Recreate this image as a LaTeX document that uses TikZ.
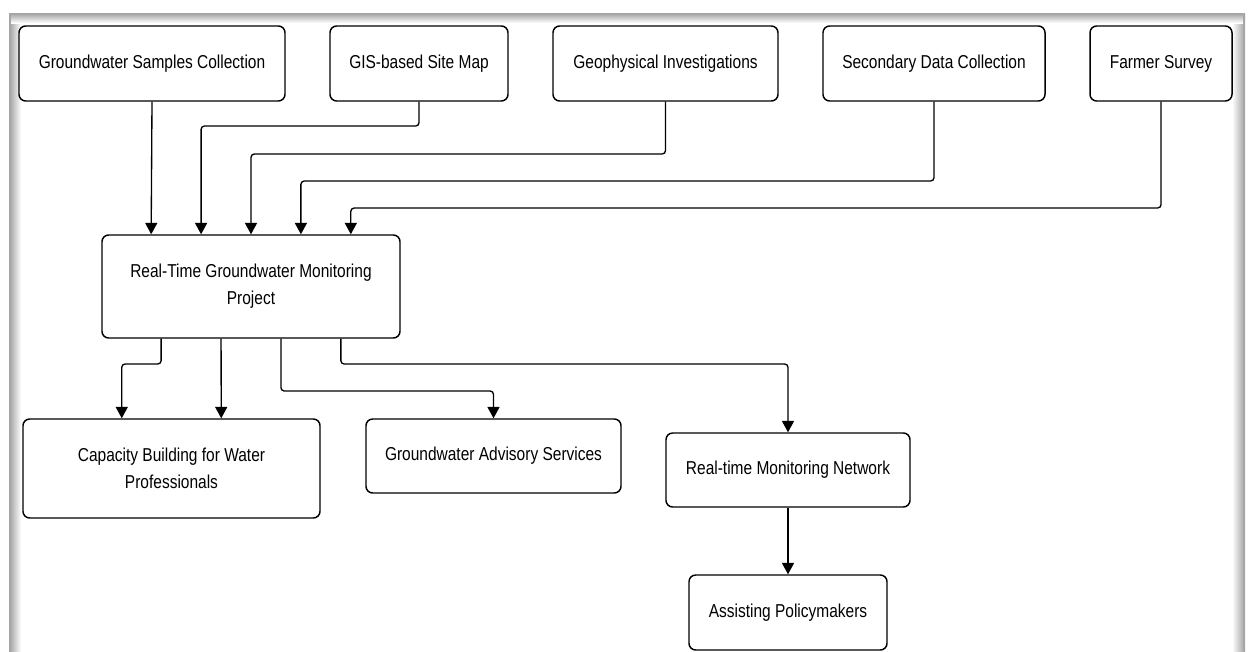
\documentclass[tikz,border=0pt]{standalone}
\usepackage{fontspec}
\setmainfont[FakeStretch=0.83]{Liberation Sans}
\usetikzlibrary{arrows.meta,calc}
\begin{document}
\begin{tikzpicture}[x=0.75pt,y=-0.75pt,
  box/.style={draw=black, line width=1.1pt, rounded corners=5pt, fill=white,
    align=center, inner sep=0pt, font=\fontsize{14pt}{20.25pt}\selectfont},
  arr/.style={draw=black, line width=1pt, rounded corners=2.5pt,
    -{Triangle[width=9pt,length=8.5pt]}}]
\useasboundingbox (0,0) rectangle (1248,651);
\fill[white] (0,0) rectangle (1248,651);
% frame with inner shadow
\shade[left color=gray!75, right color=white] (9,15) rectangle (21,651);
\shade[left color=white, right color=gray!75] (1232,15) rectangle (1245,651);
\shade[top color=gray!75, bottom color=white] (9,13) rectangle (1245,23);
\draw[gray!70, line width=1.5pt] (10,651) -- (10,14) -- (1244,14) -- (1244,651);

% top boxes
\node[box, minimum width=199.5pt, minimum height=56.25pt] (b1) at (152,63.5) {Groundwater Samples Collection};
\node[box, minimum width=133.5pt, minimum height=56.25pt] (b2) at (419,63.5) {GIS-based Site Map};
\node[box, minimum width=168.75pt, minimum height=56.25pt] (b3) at (665.5,63.5) {Geophysical Investigations};
\node[box, minimum width=166.5pt, minimum height=56.25pt] (b4) at (934,63.5) {Secondary Data Collection};
\node[box, minimum width=106.5pt, minimum height=56.25pt] (b5) at (1161,63.5) {Farmer Survey};

% central box
\node[box, minimum width=223.5pt, minimum height=77.25pt] (proj) at (251,286.5) {Real-Time Groundwater Monitoring\\Project};

% lower boxes
\node[box, minimum width=222.75pt, minimum height=74.25pt] (cap) at (171.5,468.5) {Capacity Building for Water\\Professionals};
\node[box, minimum width=191.25pt, minimum height=55.5pt] (adv) at (493.5,456) {Groundwater Advisory Services};
\node[box, minimum width=183pt, minimum height=55.5pt] (net) at (788,470) {Real-time Monitoring Network};
\node[box, minimum width=148.5pt, minimum height=56.25pt] (pol) at (788,612.5) {Assisting Policymakers};

% anchor points on the central box
\foreach \k in {1,...,5} {
  \coordinate (pin\k) at ($(proj.north west)!\k/6!(proj.north east)$);
}
\foreach \k in {1,...,4} {
  \coordinate (pout\k) at ($(proj.south west)!\k/5!(proj.south east)$);
}
\coordinate (cin1) at ($(cap.north west)!1/3!(cap.north east)$);
\coordinate (cin2) at ($(cap.north west)!2/3!(cap.north east)$);

% inputs
\draw[arr] (b1.south) -- (pin1);
\draw[arr] (b2.south) -- (b2.south |- 0,126) -| (pin2);
\draw[arr] (b3.south) -- (b3.south |- 0,154) -| (pin3);
\draw[arr] (b4.south) -- (b4.south |- 0,181) -| (pin4);
\draw[arr] (b5.south) -- (b5.south |- 0,208) -| (pin5);

% outputs
\draw[arr] (pout1) -- (pout1 |- 0,364) -| (cin1);
\draw[arr] (pout2) -- (cin2);
\draw[arr] (pout3) -- (pout3 |- 0,391) -| (adv.north);
\draw[arr] (pout4) -- (pout4 |- 0,364) -| (net.north);
\draw[arr] (net.south) -- (pol.north);
\end{tikzpicture}
\end{document}
